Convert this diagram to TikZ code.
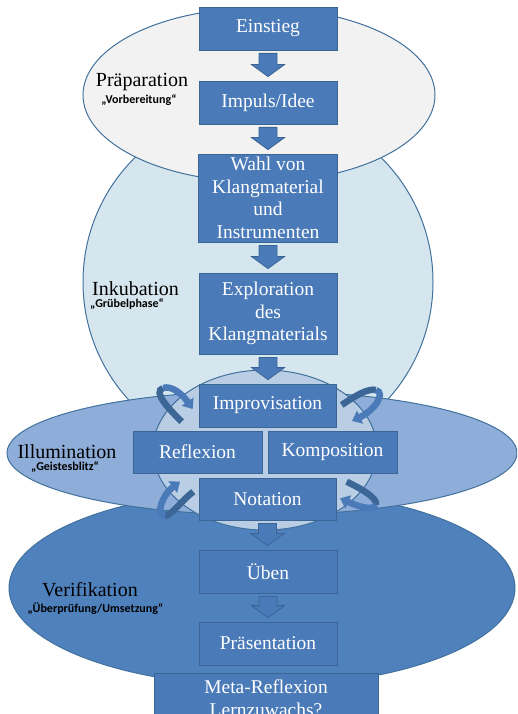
\documentclass[tikz,border=0pt]{standalone}
\usepackage{fontspec}
\setmainfont{Liberation Serif}
\newfontfamily\notefont{Carlito}
\usetikzlibrary{positioning, calc, arrows.meta}

\definecolor{boxblue}{HTML}{4A7AB8}
\definecolor{boxline}{HTML}{3A6595}
\definecolor{ringline}{HTML}{41719C}
\definecolor{prepfill}{HTML}{F2F2F2}
\definecolor{inkfill}{HTML}{D6E6EE}
\definecolor{illufill}{HTML}{8EADD8}
\definecolor{corefill}{HTML}{B9CDE5}
\definecolor{verifill}{HTML}{4F81BD}
\definecolor{loopdark}{HTML}{3B6696}

\tikzset{
  stage/.style={rectangle, draw=boxline, fill=boxblue, line width=0.8pt, text=white, align=center, inner sep=0pt, font=\fontsize{19.5}{22.5}\selectfont},
  phase/.style={draw=ringline, line width=1pt},
  phasename/.style={anchor=base, text=black, font=\fontsize{20}{22}\selectfont},
  phasenote/.style={anchor=base, text=black, font=\notefont\bfseries\fontsize{12}{13}\selectfont},
  blockarrow/.style={draw=boxline, fill=boxblue, line width=0.8pt},
  loopback/.style={draw=loopdark, line width=6.5pt},
  loopfront/.style={draw=boxblue, line width=6.5pt, -{Triangle[width=14pt, length=9pt]}}
}

\newcommand{\blockdown}[2]{%
  \draw[blockarrow] let \p1=(#1.south), \p2=(#2.north) in
    (\x1-9pt,\y1-3pt) -- (\x1+9pt,\y1-3pt) -- (\x1+9pt,\y2+16pt)
    -- (\x1+16.5pt,\y2+16pt) -- (\x1,\y2+4pt) -- (\x1-16.5pt,\y2+16pt)
    -- (\x1-9pt,\y2+16pt) -- cycle;}

\begin{document}
\begin{tikzpicture}[x=1pt, y=-1pt]
\useasboundingbox (0,0) rectangle (517,714);
\clip (0,0) rectangle (517,714);

% phases
\draw[phase, fill=inkfill] (258,282) circle [radius=175];
\draw[phase, fill=prepfill] (259,95) ellipse [x radius=176, y radius=87];
\draw[phase, fill=verifill] (262,588) ellipse [x radius=253, y radius=98];
\draw[phase, fill=illufill] (262,453) ellipse [x radius=255, y radius=62];
\draw[phase, fill=corefill] (265,450) ellipse [x radius=112, y radius=80];

\node[phasename] (prepname) at (142,87) {Präparation};
\node[phasenote] (prepnote) at (139,103.5) {„Vorbereitung“};
\node[phasename] (inkname) at (135.5,295.5) {Inkubation};
\node[phasenote] (inknote) at (127,307.5) {„Grübelphase“};
\node[phasename] (illuname) at (67,458.5) {Illumination};
\node[phasenote] (illunote) at (65,470.5) {„Geistesblitz“};
\node[phasename] (veriname) at (90,596.5) {Verifikation};
\node[phasenote] (verinote) at (95.5,612) {„Überprüfung/Umsetzung“};

% steps
\node[stage, minimum width=138pt, minimum height=43pt] (einstieg) at (268,28.5) {Einstieg};
\node[stage, minimum width=138pt, minimum height=43pt] (impuls) at (268,102.5) {Impuls/Idee};
\node[stage, minimum width=139pt, minimum height=88pt] (wahl) at (268,198) {Wahl von\\Klangmaterial\\und\\Instrumenten};
\node[stage, minimum width=138pt, minimum height=81pt] (explor) at (268,313.5) {Exploration\\des\\Klangmaterials};
\node[stage, minimum width=137pt, minimum height=43pt] (impro) at (267.5,405.5) {Improvisation};
\node[stage, minimum width=129pt, minimum height=42pt] (reflex) at (197.5,452) {Reflexion};
\node[stage, minimum width=129pt, minimum height=42pt] (kompo) at (332.5,452) {Komposition};
\node[stage, minimum width=137pt, minimum height=42pt] (nota) at (267.5,499) {Notation};
\node[stage, minimum width=138pt, minimum height=43pt] (ueben) at (268,571.5) {Üben};
\node[stage, minimum width=138pt, minimum height=43pt] (praes) at (268,643.5) {Präsentation};
\node[stage, minimum width=224pt, minimum height=50pt, anchor=north] (meta) at (266,673) {Meta-Reflexion\\Lernzuwachs?};

\blockdown{einstieg}{impuls}
\blockdown{impuls}{wahl}
\blockdown{wahl}{explor}
\blockdown{explor}{impro}
\blockdown{nota}{ueben}
\blockdown{ueben}{praes}

% turning arrows round the core
\draw[loopback] (181.7,421.7) .. controls (170,410) and (152,392) .. (163,388);
\draw[loopfront] (163,388) .. controls (172,385) and (183,395) .. (192.7,409);
\draw[loopback] (341.7,405) .. controls (355,396) and (368,388) .. (376,390);
\draw[loopfront] (376,390) .. controls (386,393) and (375,410) .. (352,421);
\draw[loopback] (193.3,491.7) .. controls (182,500) and (172,515) .. (165,516);
\draw[loopfront] (165,516) .. controls (155,516) and (162,495) .. (180,481.7);
\draw[loopback] (346.7,481.7) .. controls (360,488) and (378,498) .. (376,505);
\draw[loopfront] (376,505) .. controls (373,512) and (355,505) .. (340,498.3);
\end{tikzpicture}
\end{document}
